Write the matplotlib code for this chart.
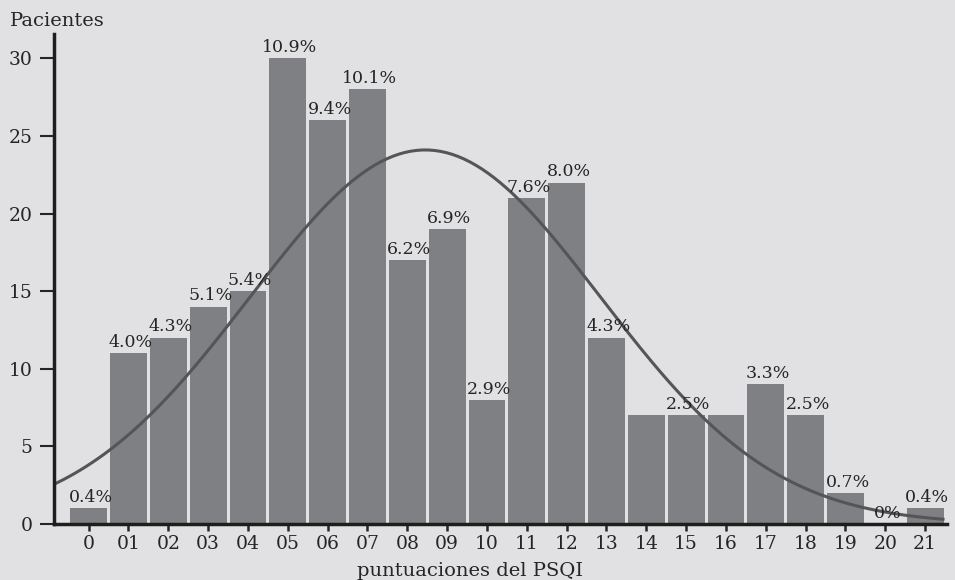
import numpy as np
import matplotlib.pyplot as plt

# PSQI score histogram with a normal curve over it
scores = list(range(22))
score_labels = ["0", "01", "02", "03", "04", "05", "06", "07", "08", "09", "10",
                "11", "12", "13", "14", "15", "16", "17", "18", "19", "20", "21"]
patients = [1, 11, 12, 14, 15, 30, 26, 28, 17, 19, 8, 21, 22, 12, 7, 7, 7, 9, 7, 2, 0, 1]
pct_labels = ["0.4%", "4.0%", "4.3%", "5.1%", "5.4%", "10.9%", "9.4%", "10.1%", "6.2%",
              "6.9%", "2.9%", "7.6%", "8.0%", "4.3%", "", "2.5%", "", "3.3%", "2.5%",
              "0.7%", "0%", "0.4%"]

# normal curve parameters
curve_mu = 8.45
curve_sd = 4.4
curve_peak = 24.1

bg = "#e1e1e3"
bar_col = "#7f8083"
txt = "#252525"
plt.rcParams["font.family"] = ["DejaVu Serif"]

fig = plt.figure(figsize=(9.55, 5.8), dpi=100, facecolor=bg)
ax = fig.add_axes([54 / 955, 56 / 580, 893 / 955, 490 / 580], facecolor=bg)

x = np.array(scores)
n = np.array(patients)
ax.bar(x, n, width=0.925, color=bar_col, zorder=2)

for xi, yi, lab in zip(x, n, pct_labels):
    if lab:
        ax.annotate(lab, (xi, yi), xytext=(1.5, 4.5), textcoords="offset points",
                    ha="center", va="baseline", fontsize=12.5, color=txt, zorder=4)

xs = np.linspace(-0.87, 21.45, 300)
ys = curve_peak * np.exp(-0.5 * ((xs - curve_mu) / curve_sd) ** 2)
ax.plot(xs, ys, color="#555557", lw=2.2, zorder=3)

ax.set_xlim(-0.87, 21.55)
ax.set_ylim(0, 31.57)
ax.set_xticks(scores)
ax.set_xticklabels(score_labels)
ax.set_yticks([0, 5, 10, 15, 20, 25, 30])
ax.tick_params(axis="x", labelsize=13.5, colors=txt, width=1.8, length=5, pad=3)
ax.tick_params(axis="y", labelsize=13.5, colors=txt, width=1.5, length=10, pad=5.5)
for s in ["top", "right"]:
    ax.spines[s].set_visible(False)
for s in ["left", "bottom"]:
    ax.spines[s].set_linewidth(2.5)
    ax.spines[s].set_color("#1e1e1e")
    ax.spines[s].set_zorder(5)

fig.text(10 / 955, 1 - 26 / 580, "Pacientes", fontsize=14, color=txt,
         ha="left", va="baseline")
fig.text(470 / 955, 1 - 576 / 580, "puntuaciones del PSQI", fontsize=14,
         color=txt, ha="center", va="baseline")

fig.savefig("out.png", dpi=100, facecolor=bg)
